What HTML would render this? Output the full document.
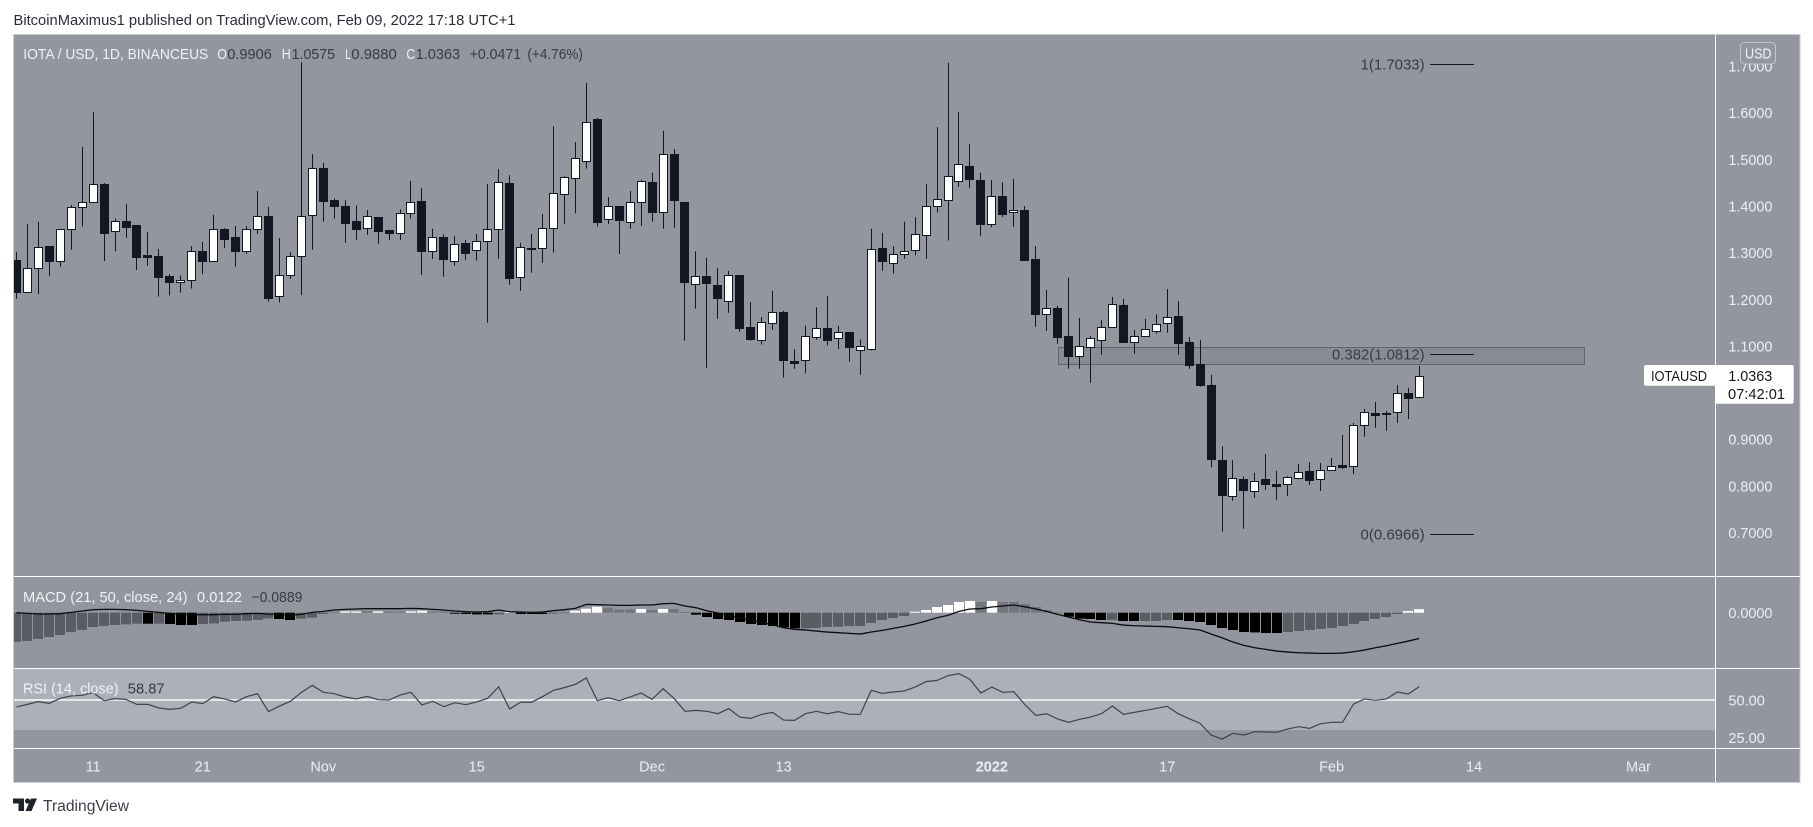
<!DOCTYPE html>
<html lang="en">
<head>
<meta charset="utf-8">
<title>IOTA / USD chart</title>
<style>
html,body{margin:0;padding:0;background:#fff;width:1813px;height:827px;overflow:hidden}
svg{display:block}
text{font-family:"Liberation Sans",Arial,sans-serif;font-size:15px}
.lt{fill:#f0f1f4}
.dk{fill:#363a45}
</style>
</head>
<body>
<svg id="chart" width="1813" height="827" viewBox="0 0 1813 827" xmlns="http://www.w3.org/2000/svg">
  <defs>
    <clipPath id="paneClip"><rect x="14" y="35" width="1701" height="747"/></clipPath>
  </defs>
  <text x="13.5" y="25" fill="#2a2e39" textLength="502" lengthAdjust="spacingAndGlyphs">BitcoinMaximus1 published on TradingView.com, Feb 09, 2022 17:18 UTC+1</text>
  <rect x="13.5" y="34.5" width="1786.5" height="748" fill="#94969f" stroke="#c9cbd2" stroke-width="1"/>
  <rect id="rsiBand" x="14" y="669" width="1701" height="61" fill="#aeb0b8"/>
  <g id="zoneLayer"></g>
  <g id="histLayer" clip-path="url(#paneClip)"></g>
  <path id="macdLine" fill="none" stroke="#0b0c10" stroke-width="1.3"/>
  <path id="rsi50" stroke="#e6e7ea" stroke-width="2" fill="none"/>
  <path id="rsiLine" fill="none" stroke="#3f424c" stroke-width="1.2"/>
  <g id="candleLayer" clip-path="url(#paneClip)"></g>
  <g id="fibLayer"></g>
  <g id="priceTickLayer"></g>
  <g id="timeTickLayer"></g>

  <path d="M14 576.5H1800" stroke="#fff" stroke-width="1"/>
  <path d="M14 668.5H1800" stroke="#fff" stroke-width="1"/>
  <path d="M14 748.5H1800" stroke="#fff" stroke-width="1"/>
  <path d="M1715.5 35V782" stroke="#fff" stroke-width="1"/>

  <g>
    <text class="lt" x="23.3" y="59" textLength="185" lengthAdjust="spacingAndGlyphs">IOTA / USD, 1D, BINANCEUS</text>
    <text class="lt" x="217.4" y="59" textLength="9.5" lengthAdjust="spacingAndGlyphs">O</text>
    <text class="dk" x="227.3" y="59" textLength="44.5" lengthAdjust="spacingAndGlyphs">0.9906</text>
    <text class="lt" x="281.7" y="59" textLength="9" lengthAdjust="spacingAndGlyphs">H</text>
    <text class="dk" x="291.6" y="59" textLength="43.5" lengthAdjust="spacingAndGlyphs">1.0575</text>
    <text class="lt" x="345.2" y="59" textLength="5.6" lengthAdjust="spacingAndGlyphs">L</text>
    <text class="dk" x="351.3" y="59" textLength="45.5" lengthAdjust="spacingAndGlyphs">0.9880</text>
    <text class="lt" x="406.4" y="59" textLength="8.7" lengthAdjust="spacingAndGlyphs">C</text>
    <text class="dk" x="415.6" y="59" textLength="44.5" lengthAdjust="spacingAndGlyphs">1.0363</text>
    <text class="dk" x="469.6" y="59" textLength="51.5" lengthAdjust="spacingAndGlyphs">+0.0471</text>
    <text class="dk" x="527.4" y="59" textLength="55.5" lengthAdjust="spacingAndGlyphs">(+4.76%)</text>
  </g>

  <g>
    <text class="lt" x="23" y="602" textLength="164.5" lengthAdjust="spacingAndGlyphs">MACD (21, 50, close, 24)</text>
    <text class="lt" x="197" y="602" textLength="45" lengthAdjust="spacingAndGlyphs">0.0122</text>
    <text class="dk" x="251.4" y="602" textLength="51" lengthAdjust="spacingAndGlyphs">−0.0889</text>
  </g>
  <g>
    <text class="lt" x="23" y="693.7" textLength="95.5" lengthAdjust="spacingAndGlyphs">RSI (14, close)</text>
    <text class="dk" x="127.8" y="693.7" textLength="36.8" lengthAdjust="spacingAndGlyphs">58.87</text>
  </g>

  <g>
    <rect x="1740.5" y="42.5" width="35" height="21.5" rx="4" fill="#94969f" stroke="#c3c5cc" stroke-width="1"/>
    <text x="1745" y="58.5" fill="#f4f5f7" textLength="26.5" lengthAdjust="spacingAndGlyphs">USD</text>
  </g>

  <g>
    <rect x="1644" y="365" width="73" height="20.7" rx="2" fill="#fff"/>
    <rect x="1715" y="365" width="78.7" height="38.7" rx="2" fill="#fff"/>
    <text x="1651" y="381" fill="#131722" textLength="56" lengthAdjust="spacingAndGlyphs">IOTAUSD</text>
    <text x="1728.3" y="381" fill="#131722" textLength="44" lengthAdjust="spacingAndGlyphs">1.0363</text>
    <text x="1728" y="399" fill="#131722" textLength="57" lengthAdjust="spacingAndGlyphs">07:42:01</text>
  </g>

  <g>
    <path d="M13 798.5H24V811H18.5V803.5H13Z" fill="#1e222d"/>
    <circle cx="27.6" cy="801" r="2.6" fill="#1e222d"/>
    <path d="M31 798.5H37L31.5 811H25.5Z" fill="#1e222d"/>
    <text x="43" y="811" fill="#3c3f4a" style="font-size:16px" textLength="86" lengthAdjust="spacingAndGlyphs">TradingView</text>
  </g>
</svg>

<script>
// ---- Price series (USD), one value per daily candle, starting 4 Oct 2021 ----
const opens = [
1.284,1.216,1.266,1.314,1.281,1.350,1.397,1.408,1.447,1.346,
1.368,1.359,1.294,1.293,1.250,1.236,1.241,1.303,1.283,1.351,
1.334,1.304,1.350,1.378,1.206,1.253,1.292,1.380,1.481,1.413,
1.400,1.368,1.352,1.376,1.349,1.343,1.384,1.411,1.303,1.334,
1.283,1.321,1.305,1.324,1.350,1.449,1.247,1.308,1.309,1.352,
1.425,1.459,1.496,1.586,1.371,1.400,1.365,1.409,1.451,1.386,
1.511,1.409,1.233,1.250,1.231,1.197,1.252,1.141,1.113,1.150,
1.173,1.068,1.069,1.120,1.138,1.116,1.130,1.092,1.094,1.310,
1.278,1.298,1.306,1.338,1.399,1.413,1.454,1.486,1.456,1.362,
1.421,1.386,1.391,1.286,1.169,1.181,1.121,1.079,1.098,1.113,
1.141,1.188,1.109,1.122,1.133,1.150,1.164,1.108,1.061,1.016,
.855,.778,.814,.790,.815,.805,.803,.816,.831,.814,
.835,.844,.842,.930,.956,.953,.958,1.000,.9906];

const highs = [
1.302,1.361,1.366,1.314,1.350,1.402,1.527,1.601,1.449,1.373,
1.404,1.359,1.344,1.308,1.254,1.251,1.314,1.323,1.381,1.352,
1.357,1.357,1.432,1.398,1.331,1.301,1.708,1.511,1.492,1.416,
1.413,1.401,1.391,1.376,1.349,1.393,1.454,1.439,1.351,1.339,
1.336,1.327,1.340,1.447,1.479,1.466,1.321,1.340,1.383,1.571,
1.464,1.537,1.664,1.589,1.419,1.400,1.432,1.456,1.471,1.561,
1.522,1.409,1.303,1.289,1.267,1.261,1.252,1.194,1.162,1.218,
1.175,1.093,1.143,1.183,1.207,1.143,1.130,1.114,1.351,1.342,
1.314,1.366,1.376,1.447,1.569,1.707,1.601,1.533,1.471,1.456,
1.451,1.458,1.400,1.314,1.220,1.186,1.246,1.160,1.121,1.156,
1.205,1.201,1.134,1.158,1.168,1.222,1.196,1.119,1.113,1.038,
.885,.855,.820,.828,.868,.832,.821,.847,.851,.849,
.860,.909,.935,.965,.980,.961,1.016,1.010,1.0575];

const lows = [
1.201,1.216,1.211,1.250,1.270,1.306,1.356,1.408,1.282,1.303,
1.332,1.263,1.272,1.206,1.208,1.214,1.223,1.254,1.281,1.310,
1.270,1.297,1.340,1.195,1.193,1.244,1.209,1.306,1.366,1.373,
1.321,1.327,1.338,1.319,1.327,1.327,1.373,1.252,1.286,1.248,
1.272,1.284,1.283,1.150,1.287,1.231,1.218,1.257,1.278,1.300,
1.361,1.384,1.480,1.356,1.361,1.297,1.351,1.357,1.366,1.351,
1.353,1.111,1.180,1.053,1.158,1.171,1.130,1.111,1.103,1.134,
1.032,1.051,1.041,1.113,1.101,1.093,1.066,1.038,1.090,1.261,
1.255,1.287,1.294,1.287,1.386,1.326,1.441,1.439,1.336,1.354,
1.376,1.355,1.284,1.141,1.132,1.104,1.051,1.051,1.021,1.081,
1.141,1.108,1.083,1.119,1.126,1.128,1.081,1.051,1.013,.840,
.702,.768,.708,.774,.791,.770,.778,.814,.802,.789,
.833,.836,.825,.905,.924,.918,.935,.943,.9880];

const closes = [
1.216,1.266,1.313,1.281,1.350,1.397,1.408,1.446,1.341,1.367,
1.355,1.291,1.291,1.248,1.236,1.241,1.303,1.283,1.350,1.330,
1.303,1.350,1.378,1.203,1.251,1.292,1.378,1.481,1.411,1.399,
1.364,1.351,1.378,1.347,1.343,1.384,1.408,1.304,1.333,1.287,
1.318,1.300,1.324,1.350,1.451,1.246,1.311,1.310,1.352,1.427,
1.461,1.502,1.581,1.366,1.399,1.369,1.408,1.453,1.387,1.511,
1.413,1.238,1.249,1.235,1.203,1.251,1.139,1.115,1.151,1.172,
1.070,1.064,1.121,1.138,1.113,1.129,1.098,1.099,1.307,1.282,
1.296,1.303,1.339,1.399,1.414,1.464,1.489,1.458,1.361,1.421,
1.383,1.391,1.284,1.168,1.181,1.119,1.078,1.099,1.116,1.140,
1.189,1.108,1.121,1.136,1.146,1.161,1.106,1.059,1.016,.858,
.780,.816,.792,.810,.805,.800,.818,.829,.813,.835,
.842,.841,.930,.958,.951,.957,.998,.989,1.0363];

// ---- MACD histogram values and momentum direction (1 = rising vs. previous) ----
const histValues = [
-.100,-.0977,-.0908,-.0839,-.077,-.0667,-.0598,-.0494,-.046,-.0425,
-.0402,-.0379,-.0379,-.0379,-.0391,-.0425,-.0425,-.0391,-.0368,-.031,
-.0287,-.0276,-.0253,-.0195,-.0218,-.0253,-.0207,-.0172,-.0046,.0034,
.0046,.0046,.0057,.0046,.0046,.0046,.0046,.0069,.0046,.0046,
-.0023,-.0046,-.0057,-.0057,-.0057,.0046,-.0046,-.0046,-.0046,-.0023,
.0011,.0069,.0138,.0207,.0172,.0115,.0115,.0126,.0092,.0126,
.0126,.0023,-.0069,-.0149,-.0218,-.0253,-.0322,-.0391,-.0425,-.046,
-.0506,-.054,-.054,-.0529,-.0494,-.0483,-.046,-.046,-.0356,-.0253,
-.0184,-.0115,.0034,.0092,.0195,.0264,.0368,.0402,.0368,.0402,
.0368,.0368,.0299,.0195,.0092,.0006,-.0138,-.0207,-.0218,-.0253,
-.0253,-.0287,-.0287,-.0287,-.0287,-.0253,-.0253,-.0287,-.0322,-.0425,
-.0529,-.0598,-.0667,-.0678,-.0701,-.0701,-.0667,-.0632,-.0598,-.0563,
-.0529,-.046,-.0391,-.0287,-.0218,-.0149,-.0046,.0057,.0122];

const histRising = [
1,1,1,1,1,1,1,1,1,1,
1,1,0,1,0,0,0,1,1,1,
1,1,1,1,0,0,1,1,1,0,
1,1,0,1,0,0,1,1,0,0,
0,0,0,0,1,1,0,0,0,1,
0,1,1,1,0,0,0,1,0,1,
0,0,0,0,0,0,0,0,0,0,
0,0,1,1,1,1,1,1,1,1,
1,1,1,1,1,1,1,1,0,1,
0,0,0,0,0,0,0,0,0,0,
1,0,0,1,1,1,0,0,0,0,
0,0,0,0,0,0,1,1,1,1,
1,1,1,1,1,1,1,1,1];

// ---- MACD line ----
const macdValues = [
0,-.0023,-.0046,-.0046,-.0034,.0011,.0058,.0104,.0115,.0115,
.0104,.0081,.0046,.0011,-.0023,-.0058,-.0069,-.0069,-.0069,-.0058,
-.0058,-.0034,-.0023,-.0046,-.0058,-.0081,-.0058,.0011,.0046,.0092,
.0115,.0127,.0138,.0138,.0138,.0138,.015,.0138,.0115,.0092,
.0058,.0035,.0023,.0035,.0092,.0035,.0023,.0012,.0023,.0069,
.0104,.015,.0288,.0276,.0265,.0253,.0253,.0265,.0265,.0311,
.0322,.023,.0173,.0069,-.0012,-.0092,-.0173,-.0253,-.0334,-.0414,
-.0518,-.0575,-.0598,-.0633,-.0667,-.069,-.0713,-.0736,-.0667,-.061,
-.0541,-.0472,-.0391,-.0288,-.0173,-.0092,.0046,.0127,.0138,.0196,
.023,.0265,.0207,.0127,.0046,-.0058,-.015,-.0242,-.0322,-.0345,
-.0368,-.0426,-.0449,-.046,-.0472,-.0483,-.0518,-.0552,-.0598,-.0736,
-.0863,-.1012,-.1127,-.1208,-.1265,-.1323,-.1357,-.138,-.1392,-.1403,
-.1403,-.1392,-.1346,-.1288,-.1208,-.1139,-.1058,-.0978,-.0889];

// ---- RSI line ----
const rsiValues = [
45.4,47.1,48.9,47.8,51.1,52.7,53.1,54.9,49.6,50.9,
50.4,47.1,47.1,44.7,43.8,44.5,48.7,47.6,52.2,50.7,
48.7,52.2,54.2,42.3,46,49.1,55.1,59.7,55.1,54.2,
52,50.7,52.4,50.2,50,53.3,55.1,46.7,49.1,45.6,
48.2,46.9,48.7,51.1,58.8,44,48.5,48.5,52.2,56.4,
58.2,60.4,64.6,49.6,51.5,49.6,52,54.6,50.4,57.5,
51.1,42.5,43.1,42.5,40.9,44.3,38.7,37.8,40.5,41.8,
36.7,36.5,40.9,42.5,40.9,42.3,40.5,40.5,56.4,54.4,
55.3,56,58.6,62.2,63,66.1,67.5,63.7,54.6,58.6,
55.1,55.5,47.1,39.8,40.9,37.4,35.2,37.2,38.7,40.9,
46,40.5,41.8,43.1,44.5,45.8,40.9,37.6,34.5,26.8,
24.1,27.9,26.8,29,28.8,28.6,30.8,32.3,31.2,34.3,
35.2,35.2,47.3,50.7,49.8,50.7,55.3,54,58.87];

// ---- Axis ticks ----
const priceTicks = [1.7,1.6,1.5,1.4,1.3,1.2,1.1,1.0,0.9,0.8,0.7];
const macdTicks = [0];
const rsiTicks = [50,25];
const timeLabels = ['11','21','Nov','15','Dec','13','2022','17','Feb','14','Mar'];
const timeDayOffsets = [7,17,28,42,58,70,89,105,120,133,148];

// ---- Drawings ----
const fibRatios = ['1','0.382','0'];
const fibPrices = [1.7033,1.0812,0.6966];
const zonePrices = [1.097,1.0605];
const zoneDayOffsets = [95,143];

// ---- Axis functions ----
function xAt(i){ return 16.4 + 10.96 * i; }
function yPrice(p){ return 66 + (1.7 - p) * 466.5; }
function yMacd(v){ return 612.7 - v * 290; }
function yRsi(r){ return 700 + (50 - r) * 1.508; }

const NS = 'http://www.w3.org/2000/svg';
function make(tag, parent){
  const el = document.createElementNS(NS, tag);
  parent.appendChild(el);
  return el;
}
function polyline(values, yFn){
  return values.map((v, i) => (i ? 'L' : 'M') + xAt(i).toFixed(2) + ' ' + yFn(v).toFixed(2)).join('');
}

// Zone rectangle
const zoneLayer = document.getElementById('zoneLayer');
const zone = make('rect', zoneLayer);


zone.setAttribute('x', Math.round(xAt(zoneDayOffsets[0])) + .5);
zone.setAttribute('y', Math.round(yPrice(zonePrices[0])) + .5);
zone.setAttribute('width', Math.round(xAt(zoneDayOffsets[1]) - xAt(zoneDayOffsets[0])));
zone.setAttribute('height', Math.round(yPrice(zonePrices[1]) - yPrice(zonePrices[0])));
zone.setAttribute('fill', '#8a8c95');
zone.setAttribute('stroke', '#61636d');
zone.setAttribute('stroke-width', '1');

// Candles
const candleLayer = document.getElementById('candleLayer');
opens.forEach(function(open, i){
  const close = closes[i];
  const up = close >= open;
  const cx = Math.round(xAt(i) - .5) + .5;
  const wick = make('path', candleLayer);
  
  
  wick.setAttribute('d', 'M' + cx + ' ' + yPrice(highs[i]).toFixed(1) + 'V' + yPrice(lows[i]).toFixed(1));
  wick.setAttribute('stroke', '#131722');
  wick.setAttribute('stroke-width', '1');
  const top = Math.round(yPrice(Math.max(open, close))) + .5;
  const bottom = Math.round(yPrice(Math.min(open, close))) + .5;
  const body = make('rect', candleLayer);
  
  
  body.setAttribute('x', cx - 4);
  body.setAttribute('y', top);
  body.setAttribute('width', 8);
  body.setAttribute('height', Math.max(bottom - top, .01));
  body.setAttribute('fill', up ? '#ffffff' : '#131722');
  body.setAttribute('stroke', '#131722');
  body.setAttribute('stroke-width', '1');
});

// MACD histogram
const histLayer = document.getElementById('histLayer');
histValues.forEach(function(v, i){
  const zero = yMacd(0);
  const y = yMacd(v);
  const bar = make('rect', histLayer);
  
  
  bar.setAttribute('x', Math.round(xAt(i) - 5));
  bar.setAttribute('y', Math.min(y, zero).toFixed(1));
  bar.setAttribute('width', 10);
  bar.setAttribute('height', Math.max(Math.abs(zero - y), 1).toFixed(1));
  const fill = v >= 0 ? (histRising[i] ? '#ffffff' : '#74767f') : (histRising[i] ? '#5b5d65' : '#000000');
  bar.setAttribute('fill', fill);
});

// Lines
document.getElementById('macdLine').setAttribute('d', polyline(macdValues, yMacd));
document.getElementById('rsiLine').setAttribute('d', polyline(rsiValues, yRsi));
document.getElementById('rsi50').setAttribute('d', 'M14 ' + yRsi(50) + 'H1715');

// Fibonacci levels
const fibLayer = document.getElementById('fibLayer');
fibPrices.forEach(function(price, i){
  const y = Math.round(yPrice(price) - .5) + .5;
  const line = make('path', fibLayer);
  
  
  line.setAttribute('d', 'M1430 ' + y + 'H1474');
  line.setAttribute('stroke', '#131722');
  line.setAttribute('stroke-width', '1');
  const label = make('text', fibLayer);
  
  
  const str = fibRatios[i] + '(' + price.toFixed(4) + ')';
  label.textContent = str;
  label.setAttribute('x', 1424.6 - str.length * 7.12);
  label.setAttribute('y', y + 5);
  label.setAttribute('fill', '#363a45');
  label.setAttribute('textLength', (str.length * 7.12).toFixed(1));
  label.setAttribute('lengthAdjust', 'spacingAndGlyphs');
});

// Price axis ticks
const priceTickLayer = document.getElementById('priceTickLayer');
priceTicks.forEach(function(p){
  const t = make('text', priceTickLayer);
  
  
  t.setAttribute('x', 1728.4);
  t.setAttribute('y', yPrice(p) + 5.5);
  t.setAttribute('fill', '#eceef1');
  t.setAttribute('textLength', 44);
  t.setAttribute('lengthAdjust', 'spacingAndGlyphs');
  t.textContent = p.toFixed(4);
});
macdTicks.forEach(function(v){
  const t = make('text', priceTickLayer);
  
  
  t.setAttribute('x', 1728.4);
  t.setAttribute('y', yMacd(v) + 5.5);
  t.setAttribute('fill', '#eceef1');
  t.setAttribute('textLength', 44);
  t.setAttribute('lengthAdjust', 'spacingAndGlyphs');
  t.textContent = v.toFixed(4);
});
rsiTicks.forEach(function(v){
  const t = make('text', priceTickLayer);
  
  
  t.setAttribute('x', 1728.4);
  t.setAttribute('y', yRsi(v) + 5.5);
  t.setAttribute('fill', '#eceef1');
  t.setAttribute('textLength', 36.5);
  t.setAttribute('lengthAdjust', 'spacingAndGlyphs');
  t.textContent = v.toFixed(2);
});

// Time axis ticks
const timeTickLayer = document.getElementById('timeTickLayer');
timeLabels.forEach(function(lbl, i){
  const t = make('text', timeTickLayer);
  
  
  t.setAttribute('x', xAt(timeDayOffsets[i]));
  t.setAttribute('y', 771.5);
  t.setAttribute('text-anchor', 'middle');
  t.setAttribute('fill', '#eceef1');
  t.style.fontSize = '14.5px';
  if (lbl === '2022') { t.setAttribute('font-weight', 'bold'); }
  t.textContent = lbl;
});
</script>
</body>
</html>
